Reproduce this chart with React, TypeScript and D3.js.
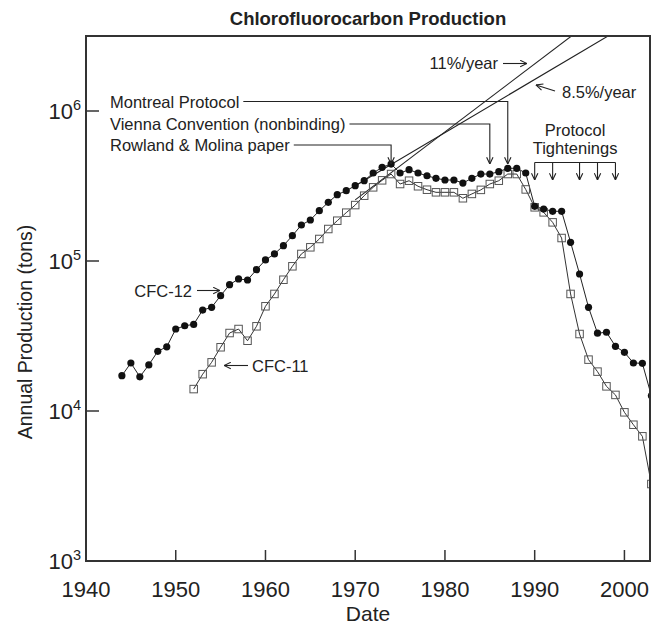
import React, { useEffect, useRef } from 'react';
import * as d3 from 'd3';

// ---------- data ----------
const cfc12StartYear = 1944;
const cfc12Values = [
  17200, 20900, 16900, 20300, 25000, 26800, 35200, 37000, 37800, 47100,
  49100, 58700, 69500, 75900, 74700, 87500, 101600, 111400, 126500, 147500,
  173800, 187600, 216400, 246000, 276700, 294200, 317700, 343000, 386000, 421000,
  443000, 386000, 406000, 386000, 370000, 356000, 346700, 346700, 331000, 356000,
  380000, 380000, 394000, 415000, 415000, 386000, 231500, 222000, 214500, 214500,
  133300, 81900, 49100, 33000, 33500, 27000, 24600, 20900, 20800, 12650,
];
const cfc11StartYear = 1952;
const cfc11Values = [
  14000, 17600, 21100, 26600, 33100, 35200, 29400, 36700, 49900, 60300,
  75000, 92200, 111400, 123400, 140200, 163400, 185600, 210000, 236000, 272500,
  309800, 345000, 380000, 326000, 343000, 315000, 298700, 287000, 287000, 287000,
  262000, 280000, 298000, 326000, 343000, 380000, 380000, 300000, 228000, 211000,
  181000, 142300, 60300, 32600, 22000, 18300, 14600, 12800, 9800, 8100,
  6780, 3260,
];

const xTickYears = [1940, 1950, 1960, 1970, 1980, 1990, 2000];
const yTickExponents = [3, 4, 5, 6];

const trendLabels = ['11%/year', '8.5%/year'];
const trendRates = [0.11, 0.085];
const trendAnchorYear = 1974;
const trendAnchorValues = [388000, 440000];
const trendStartYear = 1970;

const eventLabels = ['Montreal Protocol', 'Vienna Convention (nonbinding)', 'Rowland & Molina paper'];
const eventYears = [1987, 1985, 1974];

const tighteningYears = [1990, 1992, 1995, 1997, 1999];

const W = 652;
const H = 628;
const FONT = "'Liberation Sans', Arial, Helvetica, sans-serif";

export default function App() {
  const ref = useRef<SVGSVGElement | null>(null);

  useEffect(() => {
    const svg = d3.select(ref.current);
    svg.selectAll('*').remove();

    const left = 86, right = 650, top = 36, bottom = 561;
    const x = d3.scaleLinear().domain([1940, 2002.85]).range([left, right]);
    const y = d3.scaleLog().domain([1e3, Math.pow(10, 6.5)]).range([bottom, top]);

    const defs = svg.append('defs');
    defs.append('clipPath').attr('id', 'plotclip')
      .append('rect').attr('x', left).attr('y', top).attr('width', right - left).attr('height', bottom - top);
    defs.append('marker').attr('id', 'arr').attr('viewBox', '0 0 10 10')
      .attr('refX', 9.5).attr('refY', 5).attr('markerWidth', 8).attr('markerHeight', 8)
      .attr('markerUnits', 'userSpaceOnUse').attr('orient', 'auto')
      .append('path').attr('d', 'M1,1 L9.5,5 L1,9').attr('fill', 'none')
      .attr('stroke', '#222').attr('stroke-width', 1.4);

    const cfc12 = cfc12Values.map((v, i) => ({ year: cfc12StartYear + i, value: v }));
    const cfc11 = cfc11Values.map((v, i) => ({ year: cfc11StartYear + i, value: v }));

    const plot = svg.append('g').attr('clip-path', 'url(#plotclip)');
    const line = d3.line<{ year: number; value: number }>().x(d => x(d.year)).y(d => y(d.value));

    // trend lines
    const yMax = y.domain()[1];
    trendRates.forEach((r, i) => {
      const v0 = trendAnchorValues[i] / Math.pow(1 + r, trendAnchorYear - trendStartYear);
      const endYear = trendStartYear + Math.log(yMax * 1.05 / v0) / Math.log(1 + r);
      const pts = [
        { year: trendStartYear, value: v0 },
        { year: endYear, value: v0 * Math.pow(1 + r, endYear - trendStartYear) },
      ];
      plot.append('path').attr('d', line(pts) as string).attr('fill', 'none')
        .attr('stroke', '#222').attr('stroke-width', 1.1);
    });

    plot.append('path').attr('d', line(cfc11) as string).attr('fill', 'none')
      .attr('stroke', '#333').attr('stroke-width', 1);
    plot.append('path').attr('d', line(cfc12) as string).attr('fill', 'none')
      .attr('stroke', '#222').attr('stroke-width', 1);

    const sq = 7.5;
    plot.selectAll('rect.c11').data(cfc11).enter().append('rect').attr('class', 'c11')
      .attr('x', d => x(d.year) - sq / 2).attr('y', d => y(d.value) - sq / 2)
      .attr('width', sq).attr('height', sq).attr('fill', 'none')
      .attr('stroke', '#555').attr('stroke-width', 1);
    plot.selectAll('circle.c12').data(cfc12).enter().append('circle').attr('class', 'c12')
      .attr('cx', d => x(d.year)).attr('cy', d => y(d.value)).attr('r', 3.6)
      .attr('fill', '#111');

    // frame
    svg.append('rect').attr('x', left).attr('y', top).attr('width', right - left)
      .attr('height', bottom - top).attr('fill', 'none').attr('stroke', '#333').attr('stroke-width', 2);

    // x ticks
    xTickYears.forEach(t => {
      if (t > 1940) {
        svg.append('line').attr('x1', x(t)).attr('x2', x(t)).attr('y1', bottom).attr('y2', bottom - 11)
          .attr('stroke', '#333').attr('stroke-width', 1.5);
      }
      svg.append('text').attr('x', x(t)).attr('y', 597).attr('text-anchor', 'middle')
        .attr('font-family', FONT).attr('font-size', 22).attr('fill', '#222').text(String(t));
    });
    // y ticks
    yTickExponents.forEach(e => {
      const yy = y(Math.pow(10, e));
      if (e > 3) {
        svg.append('line').attr('x1', left).attr('x2', left + 13).attr('y1', yy).attr('y2', yy)
          .attr('stroke', '#333').attr('stroke-width', 1.5);
      }
      const t = svg.append('text').attr('x', 81).attr('y', yy + 7.5).attr('text-anchor', 'end')
        .attr('font-family', FONT).attr('font-size', 22).attr('fill', '#222');
      t.append('tspan').text('10');
      t.append('tspan').attr('dy', -8.5).attr('font-size', 14.5).text(String(e));
    });

    // axis titles
    svg.append('text').attr('x', (left + right) / 2).attr('y', 25).attr('text-anchor', 'middle')
      .attr('font-family', FONT).attr('font-size', 18.5).attr('font-weight', 'bold').attr('fill', '#222')
      .text('Chlorofluorocarbon Production');
    svg.append('text').attr('x', (left + right) / 2).attr('y', 621).attr('text-anchor', 'middle')
      .attr('font-family', FONT).attr('font-size', 21).attr('fill', '#222').text('Date');
    svg.append('text').attr('transform', 'translate(32,332) rotate(-90)').attr('text-anchor', 'middle')
      .attr('font-family', FONT).attr('font-size', 19.5).attr('fill', '#222').text('Annual Production (tons)');

    const ann = svg.append('g').attr('font-family', FONT).attr('font-size', 16.5).attr('fill', '#222');

    // event annotations
    const rowY = [101.5, 124, 145];
    const tipY = 164;
    eventLabels.forEach((lab, i) => {
      const txt = ann.append('text').attr('x', 110).attr('y', rowY[i] + 6).text(lab);
      const w = (txt.node() as SVGTextElement).getComputedTextLength();
      const ex = x(eventYears[i]);
      ann.append('path').attr('d', `M${110 + w + 4},${rowY[i]} H${ex} V${tipY}`)
        .attr('fill', 'none').attr('stroke', '#222').attr('stroke-width', 1.1).attr('marker-end', 'url(#arr)');
    });

    // trend labels
    ann.append('text').attr('x', 498).attr('y', 69).attr('text-anchor', 'end').text(trendLabels[0]);
    ann.append('line').attr('x1', 503).attr('x2', 527).attr('y1', 63.5).attr('y2', 63.5)
      .attr('stroke', '#222').attr('stroke-width', 1.1).attr('marker-end', 'url(#arr)');
    ann.append('text').attr('x', 562).attr('y', 98).text(trendLabels[1]);
    ann.append('line').attr('x1', 555).attr('x2', 536).attr('y1', 91).attr('y2', 85)
      .attr('stroke', '#222').attr('stroke-width', 1.1).attr('marker-end', 'url(#arr)');

    // protocol tightenings
    const cx = (x(tighteningYears[0]) + x(tighteningYears[tighteningYears.length - 1])) / 2;
    ann.append('text').attr('x', cx).attr('y', 136).attr('text-anchor', 'middle').text('Protocol');
    ann.append('text').attr('x', cx).attr('y', 154).attr('text-anchor', 'middle').text('Tightenings');
    ann.append('line').attr('x1', x(tighteningYears[0])).attr('x2', x(tighteningYears[tighteningYears.length - 1]))
      .attr('y1', 162.5).attr('y2', 162.5).attr('stroke', '#222').attr('stroke-width', 1.1);
    tighteningYears.forEach(t => {
      ann.append('line').attr('x1', x(t)).attr('x2', x(t)).attr('y1', 162.5).attr('y2', 180)
        .attr('stroke', '#222').attr('stroke-width', 1.1).attr('marker-end', 'url(#arr)');
    });

    // series labels
    ann.append('text').attr('x', 192).attr('y', 296.5).attr('text-anchor', 'end').text('CFC-12');
    ann.append('line').attr('x1', 197).attr('x2', 220).attr('y1', 290.5).attr('y2', 290.5)
      .attr('stroke', '#222').attr('stroke-width', 1.1).attr('marker-end', 'url(#arr)');
    ann.append('text').attr('x', 252).attr('y', 372).text('CFC-11');
    ann.append('line').attr('x1', 248).attr('x2', 224).attr('y1', 365.5).attr('y2', 365.5)
      .attr('stroke', '#222').attr('stroke-width', 1.1).attr('marker-end', 'url(#arr)');
  }, []);

  return (
    <svg ref={ref} width={W} height={H} style={{ position: 'absolute', left: 0, top: 0, background: '#fff' }} />
  );
}
